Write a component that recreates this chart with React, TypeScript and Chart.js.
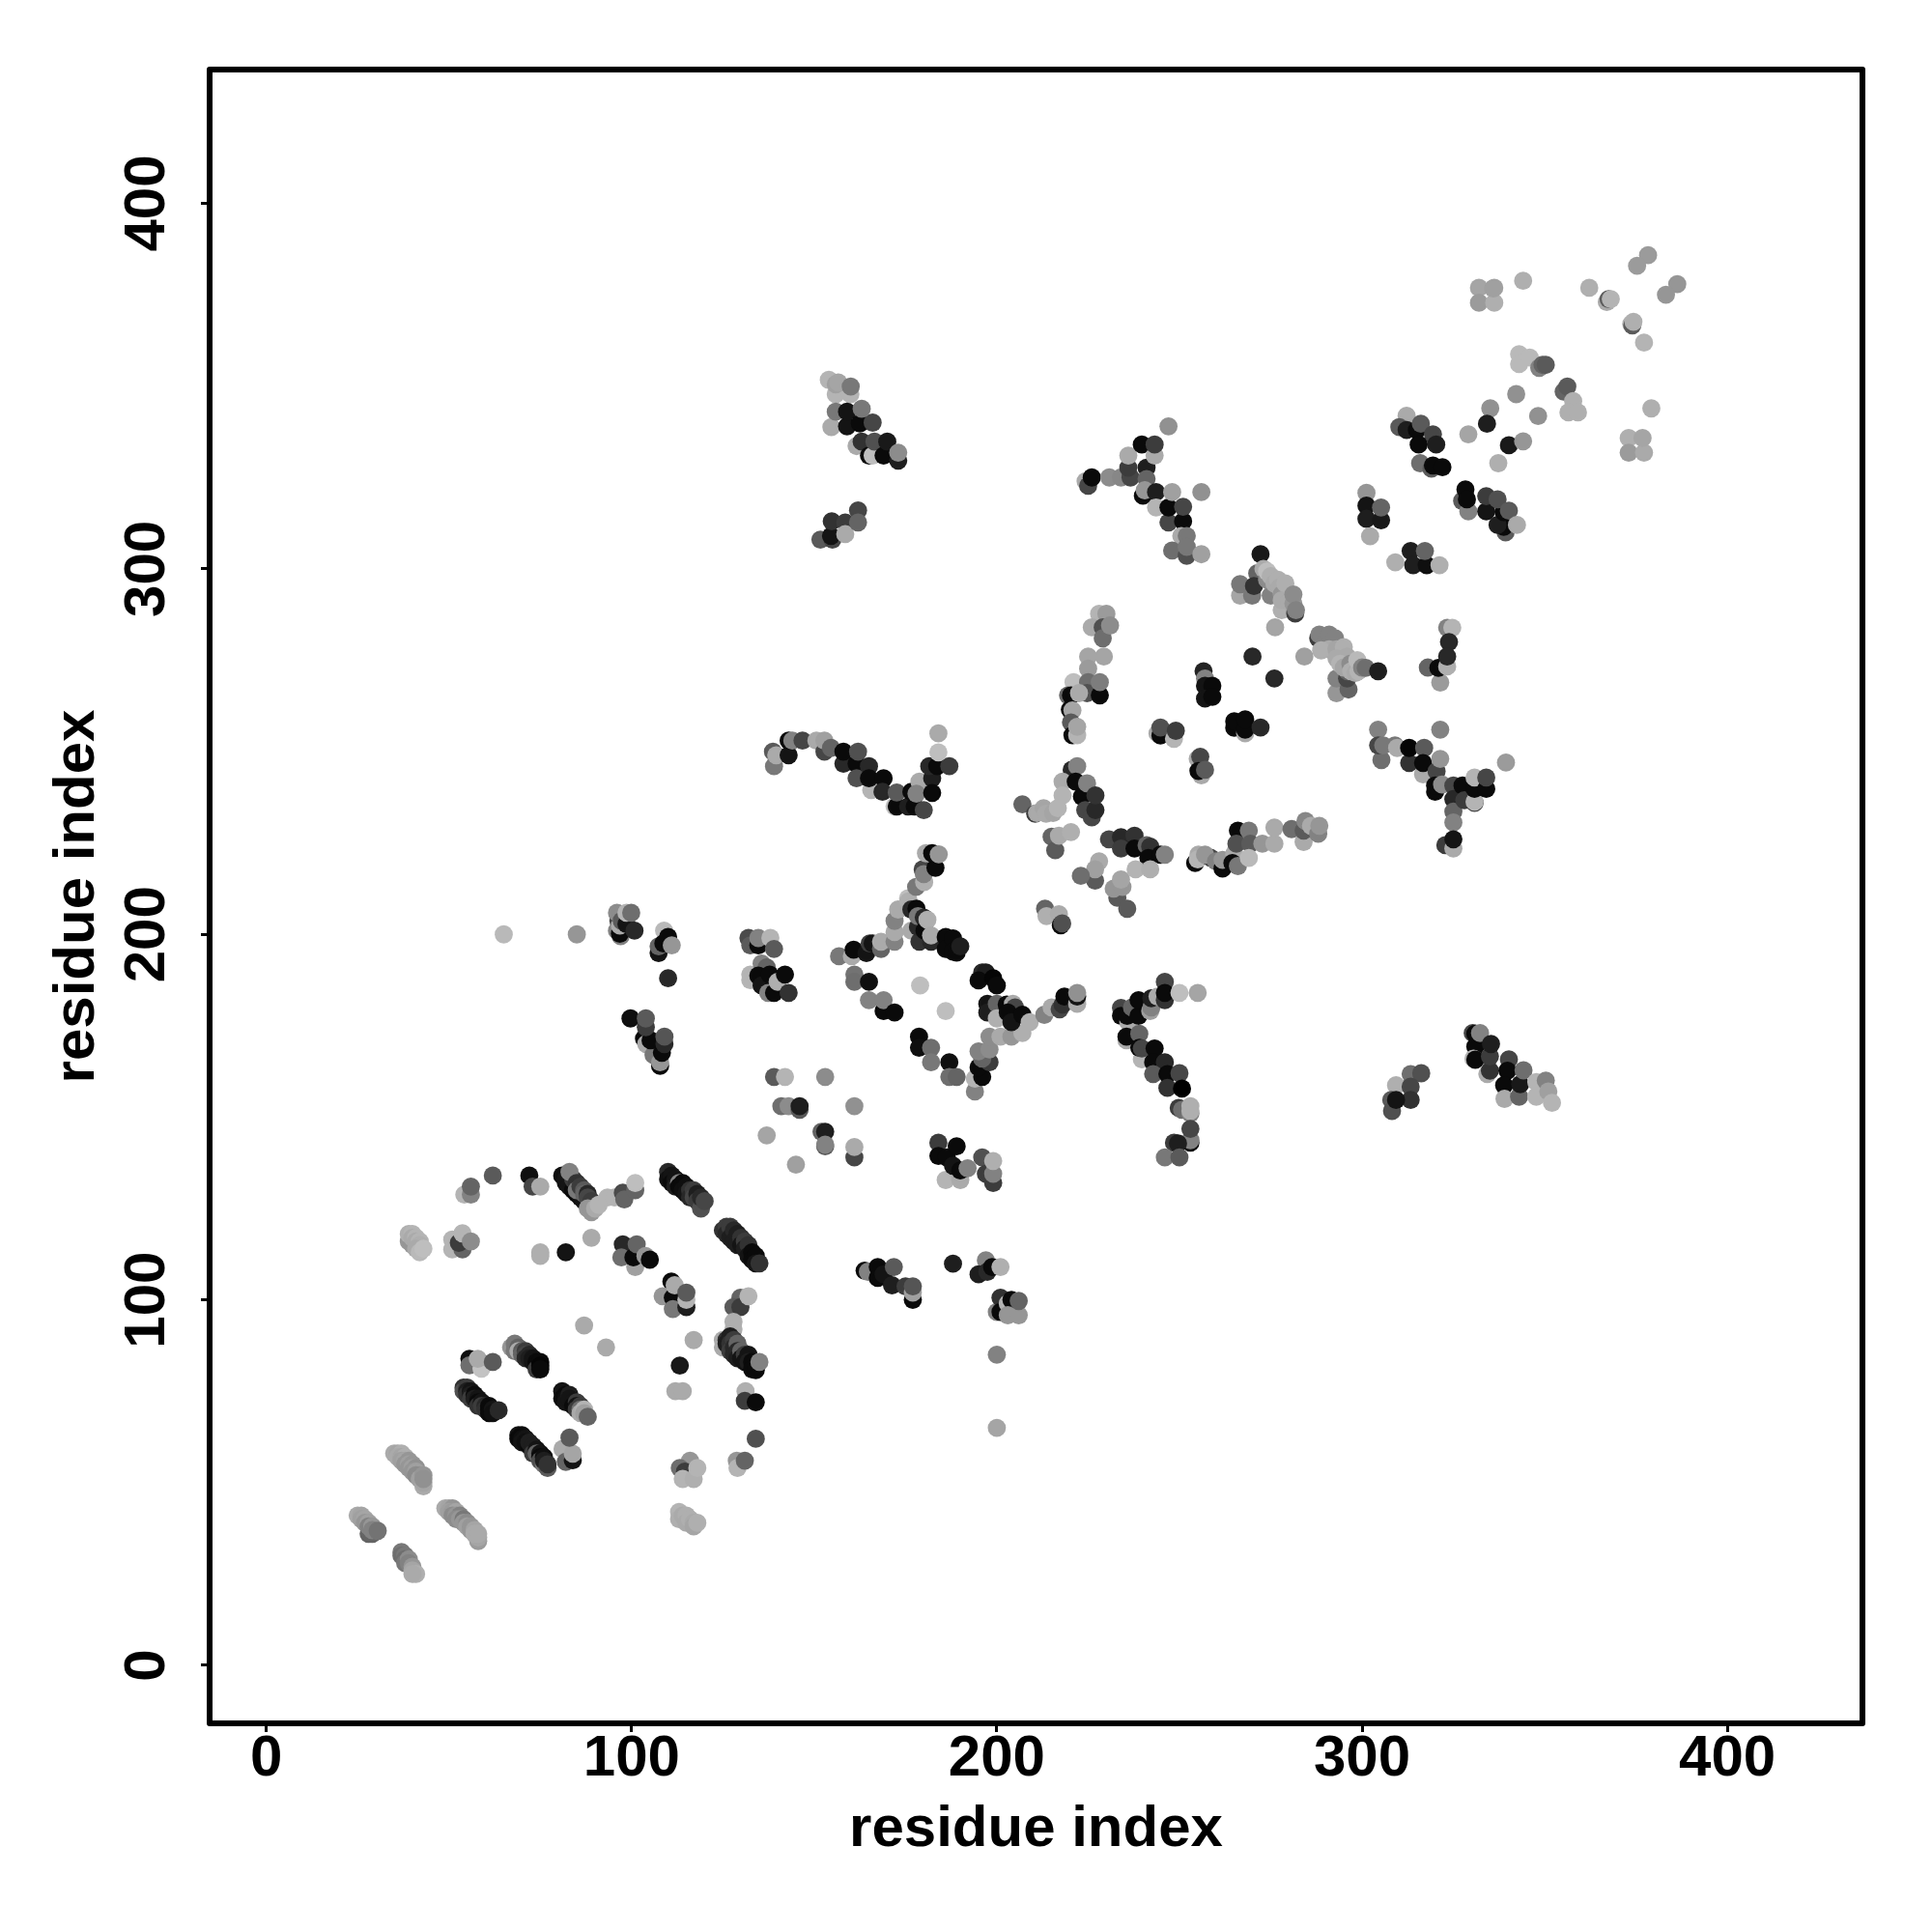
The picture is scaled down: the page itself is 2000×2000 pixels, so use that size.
import React, { useEffect, useRef } from "react";
import { Chart, registerables } from "chart.js";

Chart.register(...registerables);

type P = number[];
const tickValues = [0, 100, 200, 300, 400];
const axisTitle = "residue index";

const strandA: P[] = [[28,36,100],[29,36,100],[25,41,170],[26,41,165],[26,40,160],[27,40,165],[27,39,150],[28,39,160],[28,38,130],[29,38,150],[29,37,130],[30.5,36.8,115]];
const strandB: P[] = [[37,31,120],[37,30,110],[38,30,120],[38,29,110],[38,28,120],[39,29,140],[39,28,130],[40,27,150],[40,26,165],[41,25,175],[40,25,170]];
const strandC: P[] = [[35,58,170],[36,58,165],[37,58,175],[36,57,170],[37,57,165],[38,57,175],[37,56,160],[38,56,165],[39,56,150],[38,55,150],[39,55,160],[40,55,150],[39,54,150],[40,54,160],[41,54,145],[40,53,150],[41,53,160],[42,52,150],[41,52,140],[42,51,160],[43,49,170],[43,50,165],[43,52,150],[43,51,145]];
const strandD: P[] = [[49,43,170],[50,43,165],[51,43,150],[50,42,160],[51,42,155],[52,42,165],[51,41,140],[52,41,150],[53,41,130],[52,40,140],[53,40,150],[54,40,120],[54,39,150],[55,39,140],[55,38,160],[56,38,150],[56,37,150],[57,37,165],[58,34,155],[58,35,165],[57,36,170],[58,36,170]];
const ringLow: P[] = [[69,63,20],[70,63,10],[69,62,10],[70,62,15],[71,62,20],[70,61,20],[71,61,15],[72,60,10],[72,61,30],[73,60,30],[73,59,30],[73,58,60],[74,59,20],[74,58,100],[75,58,20],[75,57,10],[75,56,80],[76,55,120],[76,57,15],[76,56,30],[77,54,90],[77,55,50]];
const ringLowSide: P[] = [[81.1,59.2,170],[82,55.7,100],[83.9,56.1,20],[83.9,57.9,165],[83,62.3,90]];
const ringLeft: P[] = [[54,76,50],[54,75,80],[55,76,60],[55,75,30],[55,74,50],[56,75,20],[56,74,30],[56,73,60],[57,74,10],[57,73,30],[58,73,20],[58,72,10],[58,71,50],[59,72,20],[59,71,60],[60,71,40],[60,70,50],[61,71,10],[61,70,10],[61,69,10],[62,70,20],[62,69,15],[63.6,69.8,40]];
const ringLeftTop: P[] = [[55.6,83.9,15],[55.6,82.1,110],[58.9,81.2,195],[57.9,83.9,170],[62,83,90]];
const ringTop: P[] = [[67,87,150],[68,88,120],[68,86,120],[69,87,100],[69,86,170],[70,86,90],[70,85,100],[71,86,60],[71,85,70],[71,84,40],[72,85,40],[72,84,30],[73,84,20],[73,83,20],[74,83,10],[74,82,10],[74,81,60],[75,83,10],[75,82,5],[75,81,10]];
const ringRight: P[] = [[81,75,20],[81,73,10],[82,74,10],[82,73,15],[82,72,20],[83,74,30],[83,73,20],[84,72,20],[84,71,10],[85,72,60],[85,71,20],[85,70,60],[86,71,60],[86,70,110],[86,69,170],[87,70,180],[87,69,160],[88,68,100]];
const lone1: P[] = [[87,93,170],[93,87,170],[75,113,175],[75,112,175],[82,113,20],[89,117,170],[65,200,185],[85,200,150],[200,85,130],[200,65,165]];
const arc115a: P[] = [[39,116,150],[40,115,150],[39,118,175],[40,118,180],[40,117,170],[41,117,180],[41,116,170],[42,116,180],[42,115,175],[41,114,170],[42,113,185],[43,114,190]];
const arc115b: P[] = [[50.9,113.8,180],[50.9,116.5,180],[53.7,113.8,100],[52.7,115.6,60],[53.7,118.2,180],[56,116,140]];
const arc130a: P[] = [[54.2,128.8,180],[56,128.8,130],[56,131,100],[62,134,90],[72,134,15],[72.9,131,70],[75,131,170]];
const arc130b: P[] = [[81,134,15],[82,132,20],[82,133,20],[83,131,20],[84,130,10],[85,129,10],[86,128,15],[87,127,20],[84,133,60],[83,135,130],[85,132,50],[85,130,120],[86,131,60],[87,130,90],[87,129,100],[88,129,40],[88,128,70],[89,127,60],[88,125,150],[89,124,150],[90,125,170],[91,126,180],[93.4,128,180],[95.3,128,180],[97.6,129.3,75],[98,127.5,100],[101,130,100],[101,132,190]];
const arc130c: P[] = [[110,135,40],[110,133,15],[111,134,20],[111,132,10],[112,133,20],[112,131,30],[113,132,130],[113,131,10],[114,132,10],[114,130,15],[115,131,15],[115,129,20],[116,130,50],[116,128,40],[117,130,60],[117,128,70],[118,129,30],[118,127,60],[119,125,80],[119,128,40],[120,127,70]];
const arc115c: P[] = [[125,119,50],[126,120,60],[126,118,40],[127,120,60],[127,117,30],[128,119,40],[128,116,30],[129,118,30],[129,115,30],[130,117,50],[130,115,20],[131,116,60],[131,114,30],[132,115,50],[132,112,20],[133,113,10],[133,111,10],[134,112,10],[134,110,20],[135,110,50]];
const arc112: P[] = [[97.6,115.2,40],[97.2,111.6,110],[101,109,160],[100.5,111.6,10],[101.4,115.2,100],[103.8,112,150],[105,111,10]];
const arc100: P[] = [[110.9,105,10],[108.5,101,150],[111.3,100.6,10],[111.3,97.5,120],[115,98,30],[115,100,180],[111.8,104,170],[115,102,90]];
const arc90: P[] = [[117,89,170],[113.2,82,25],[112,75,170],[114,75,170],[131.2,75,175],[131,72.4,60],[134,72,10],[134,62,80],[128.8,56,150],[129,54,180],[131,56,100],[116,56,150],[113.2,54,110],[114.6,53,60],[114,51,180],[117,51,175],[118,54,180],[113,42,180],[113,40,175],[114,41,170],[115,41,175],[115,39,170],[116,40,175],[117,39,170],[117,38,165],[118,39,175]];
const arc98: P[] = [[129.8,100.6,100],[127.9,98,90],[129.8,98,60],[127.9,94,175],[127.9,92,175],[132,101,180]];
const arc85: P[] = [[125,89,170],[125,87,170],[126,89,50],[126,88,30],[127,90,30],[127,88,50],[127,86,60],[128,89,60],[128,87,40],[128,85,40],[129,88,100],[129,86,40],[129,84,30],[130,86,100],[130,84,20],[131,85,60],[131,83,20],[132,85,20],[132,83,30],[133,83,10],[133,81,10],[134,80.8,10],[135,83,130]];
const upper200a: P[] = [[96,201,130],[97,199.5,130],[96.8,200.2,10],[96.4,203.7,70],[96,205.9,140],[96.8,202.4,170],[97.3,203.7,90],[98.6,202.8,20],[100.8,201,40],[98.6,205.9,180],[99.9,205.9,110]];
const upper200b: P[] = [[108.9,201,185],[107.4,194.9,20],[107.4,196.7,100],[108.7,197.5,10],[110,199.3,10],[111,197,150],[110,188,40]];
const upper170: P[] = [[99.7,177,15],[103.4,171.5,10],[104,170,170],[106,167,120],[107.8,164,10],[107.8,165,150],[108.3,167.6,10],[105.2,171,10],[103.9,174.6,60],[103.9,177,90],[109,170,40],[109,172,85]];
const upper198: P[] = [[132,199,75],[132.5,197,90],[134.7,197,10],[134.7,199,130],[138,199,180],[139,196,90]];
const upper188: P[] = [[132.5,189,180],[132.5,187.5,180],[135.6,192,130],[137,191,100],[134.7,188.7,10],[135.6,186,20],[137.4,184,130],[139,184,10],[137.8,189,10],[140,187,175],[142,189,10],[143,184,50]];
const sparse150: P[] = [[139,161,90],[142,161,180],[153,161,140],[141,153,110],[143,153,140],[146,152,90],[146,153,30],[161,153,145],[137,145,165],[152,146,100],[153,146,30],[153,142,90],[153,142.5,130],[161,139,70],[161,141.8,170],[145,137,160]];
const diamondTopLeft: P[] = [[156.8,194,120],[160.3,194,170],[160.8,195.8,10],[164.3,194.9,20],[165.2,197.5,60],[166,197.5,20],[168.3,196,100],[168.3,198,170],[172,198,130],[172,200.6,170],[172,203.7,130],[173,206.8,170],[175.7,209.9,190],[175.8,209,175],[177.9,213,120],[180.1,214.3,175],[179.7,217.8,70],[180,216.5,130],[183.2,218.2,10],[180.6,222.2,170],[182.3,222.2,10],[184.1,221.9,150]];
const diamondTop: P[] = [[176.6,206.8,40],[178,207,10],[176.6,201,170],[178.8,198,50],[182,198,40],[178.4,202,40],[178.4,205,120],[180,204.6,40],[180.2,201,10],[181,204,175],[182,199.7,170],[186,199.3,10],[186,196,10],[188,198.9,10],[188,195.3,10],[189,195,10],[190,196.7,30]];
const diamondLeft: P[] = [[161,189,115],[161,187,110],[165,187,15],[165,182,130],[169,179,10],[169,182,130],[172,178.6,10],[179,186,190],[186,179,190]];
const diamondLow: P[] = [[178.7,172,10],[178.7,169,15],[182,169,110],[182,165,120],[187,165,15],[187,161,110],[189,161,100],[194,157,130],[194,160.5,180],[196,161,10],[195,163.6,10],[198,165,60],[196,166,100],[195,168,130],[198,168.5,140],[198,172,140],[201,172,170],[204,172,150],[207,173,175]];
const diamondRight: P[] = [[196,189.6,40],[197,189.6,30],[195,187.4,10],[199,188,5],[200,186,10],[197.4,181,20],[197.4,178.6,30],[200,181,100],[200,177,175],[202.7,180.8,10],[204.4,181,170],[205,180,70],[203,178.6,10],[204,176,20],[207,178,10],[209,176,175]];
const diamondTail: P[] = [[213,178,130],[215,180,170],[217.2,179.5,70],[218,180.8,50],[218.5,183,10],[222,181,170],[222,183,20],[222,184,145]];
const mid140: P[] = [[184,143,60],[184,139.4,10],[186,132.8,180],[190,132.8,170],[186.3,139,10],[188,136.7,20],[189,142,10],[190,135.4,10],[192,136,130],[196,139,80],[197,134.5,60],[199,132,60],[199,134.5,130],[199,138,175]];
const right180: P[] = [[234,179.9,70],[234,177.7,10],[236,176,170],[235.7,177.7,10],[237,180,100],[238.8,177.7,10],[238.8,182,10],[242,179,160],[242.3,180,130],[242.3,182.5,30],[244,183,170],[246,187,70],[246,182,50],[246,184,10],[250,184,190],[255,184,165]];
const right165: P[] = [[235.5,171,170],[235.5,172,10],[239,172.8,100],[239.7,165.8,180],[239,169,10],[239.7,168.8,70],[243.2,168.8,10],[242.8,165,10],[246,165,40],[242.8,161.8,90],[246.7,161.8,10],[250,162,70],[246.7,158,50],[250.7,157.8,0],[249.8,152.5,60],[250.7,152,110],[253,151,130],[253,151.7,175],[253,153,175]];
const right143: P[] = [[253,143,10],[253,143.7,130],[253,146.8,70],[248.5,143,60],[249.6,142.8,30],[246,139,120],[250,139,90]];
const far155a: P[] = [[313.3,161.8,110],[316.2,162,80],[309.3,158.7,175],[313.3,158.3,70],[313.3,154.7,50],[308,154.7,90],[308.2,151.7,80],[309.3,154.7,20]];
const far155b: P[] = [[330.3,173,70],[331,172.8,10],[331,169.3,10],[330.5,166,180],[331,165.7,10],[332.3,173,130],[334.3,161.8,170],[335,162.7,50],[335,166.6,60],[335.3,170,30],[340.2,165.8,70],[339.8,162.7,10],[338.9,158.7,10],[339,155,170],[343,155.6,100],[343.3,159,25],[344.2,162.8,110],[347.7,159.6,180],[347.7,155.6,180],[350.3,160,130],[351,157,160],[352,153.9,180]];
const low105a: P[] = [[163.8,108,10],[164.7,107.7,130],[167.4,106,10],[167.4,109,10],[169,107,20],[171.3,104,30],[171.8,109,90],[175,103.7,60],[177,100,10],[177,102,160],[177,103.7,85]];
const low105b: P[] = [[188,109.9,30],[197,110.8,130],[195,107,30],[197.4,107.7,40],[198.7,109,10],[201,109,175]];
const low98: P[] = [[200,96.7,130],[201,100.6,50],[201,96.7,10],[203,99,180],[204,100,10],[203,95.8,150],[206,95.8,150],[206,99.7,100]];
const top350: P[] = [[154,351.7,180],[155.9,347.8,180],[159.9,347.8,180],[155.9,350.5,160],[156.6,351,165],[160,349.9,120],[154.7,338.8,170],[155.9,343,120],[159,339,20],[159,343,20],[162.5,339.8,10],[166,340,70],[163,343.8,120]];
const top333: P[] = [[161.6,333.6,170],[163,334.8,50],[165,331,10],[166,331,190],[166.5,334.8,80],[169,331,10],[170,334.8,25],[173,329.6,30],[173,331.8,140]];
const top312: P[] = [[151.7,308,90],[155,308,70],[154.6,309,20],[154.8,313,50],[158.5,312.7,60],[158.5,309.5,170],[162,316,70],[162,312.7,100]];
const top325: P[] = [[224.3,324,170],[225,322.7,70],[226,325,10],[230.8,325,140],[234,325,135],[236.6,325,70],[236,327.7,60],[236,331,170],[239.7,334,10],[241,327.7,30],[241,324.6,100],[243.2,331,170],[243.2,334,60],[247,339,145]];
const top315: P[] = [[240,320,10],[240.5,321.5,150],[243.6,321,30],[243.6,316.8,180],[247,312.7,70],[247,316.8,10],[251,313,10],[251,317,70],[248,321,160],[256,321,145],[250.5,309,170],[252,309,120],[248,305,110],[252,303.6,80],[252,306,120],[256,304,160]];
const band250: P[] = [[139,246,120],[138.7,250,90],[139.6,249,170],[143,249,20],[143,253,10],[144,253,130],[146.8,253,70],[150.6,253,170],[152.8,250,70],[152.8,253,160],[154.6,251,100],[158,246.7,40],[158,250,10],[161.6,246.7,10],[162,250,80],[161.6,242.7,80],[165,246,40],[165.6,239.5,180],[165,242.7,10],[169,242.7,10],[168.7,239,40],[172,235,190],[172.6,235,10],[172.6,238.8,90]];
const band240: P[] = [[175.7,235,30],[177.5,235,10],[176.6,239,10],[178.8,241.8,170],[178,238.5,130],[182.3,242.7,30],[182.3,238.7,10],[180,234,70],[181.5,246,40],[183.7,246,10],[187,246,60],[184,249.8,190],[184,255,170]];
const col285: P[] = [[228,287.7,180],[226,284,170],[230,287.7,155],[229,284,80],[229,281,110],[231,284.5,140],[229.3,276,165],[225,276,165],[225,272.7,155],[221,269,190],[225,269,110],[224.7,266,80],[228.2,265.4,10],[228.2,269,125]];
const col260: P[] = [[219.5,265.4,100],[220.3,265.4,10],[222.5,266,170],[220,261.5,10],[220.7,261.3,165],[220.3,258,90],[220.7,254.5,10],[222,254.5,180],[222,256.8,165]];
const col240: P[] = [[220.5,245,40],[222,246,130],[218,241.8,170],[218,238,180],[221.6,241.8,10],[223.3,237.7,10],[224.7,241.3,130],[224.2,234,70],[226,232,70],[227,234,40],[227,238,50]];
const pale234: P[] = [[207,235.6,100],[210.5,233,60],[211,233.2,170],[212.8,234.5,165],[213.5,233,170],[215.4,233.2,165],[216.7,234.5,180],[215,226.7,100],[216,223,90],[217,227,170],[220.3,228,175]];
const band225: P[] = [[230.7,226,70],[234,226.6,40],[234,223.5,60],[237.7,227,50],[237.7,223.5,10],[241,224.4,100],[242,224,50],[241.5,220.9,10],[244.8,221.8,10],[246,221.8,130]];
const pale215: P[] = [[228,220,170],[226.9,214.7,90],[226.9,217.8,160],[223,216,110],[238,217.8,180],[242,217.8,175],[233,210,90],[232,212.5,150],[234.4,213,150],[234,215,165],[235.7,207,90],[213.2,207,100],[213.6,205,175],[217,205.5,170],[217.5,202.5,10],[217.9,203,80]];
const band220: P[] = [[254.3,219.5,10],[255.2,221.8,170],[255,220.5,180],[258.5,221,70],[257,221.8,150],[260,220,130],[261.8,218,10],[261.8,220.4,150],[265,222,170],[264.5,219.5,10],[266,218.7,120],[266,228.4,10],[265.6,224.8,80],[269,228.4,120],[269.4,224.8,90],[269,220.9,185],[272.7,224.8,150],[276,224.8,170],[276,229.2,170],[280.7,228.8,110],[284,225.3,170],[284,228.4,90],[284.5,231,135],[286,229.7,170],[288,227.5,130],[288.3,229.7,150]];
const cross295: P[] = [[272.2,304,25],[271.3,298.8,100],[266.6,292.7,165],[266.6,295.8,120],[269.9,292.7,120],[270.4,295.3,50],[273,300,170],[274,297,140],[274,299.3,190],[275,298,175],[275,292.7,130],[276,296,170],[277,297,175],[277.4,294.9,170],[278,293,150],[279,296,175],[278,288.7,175],[278,291.4,170],[280,291,170],[281.7,287.8,60],[281.2,290.5,150],[281.2,293,140],[281.9,288.7,130],[276.2,284,165]];
const cross275: P[] = [[288,281,60],[288.3,282,130],[290,280,130],[291,282,130],[292.6,281,130],[291,278,170],[288.8,277.7,175],[293,278,165],[295,278.6,175],[284.2,276,160],[293,275.5,170],[295.9,276,170],[293,266,150],[293,270,130],[296.3,267,100],[295.9,270,70],[296,272,100],[294,274,180],[295,273,165],[296.8,274,140],[297,272,175],[298.2,271.5,170],[299,272,180],[298.7,275,185],[300,273,130],[301,272.9,110],[304.4,272,30]];
const col275: P[] = [[323.3,283.9,130],[324.7,283.9,180],[323.8,280,40],[321.4,268.9,155],[318,273,100],[320.9,272.9,10],[323.3,273.3,175],[323.3,276,40]];
const blocks265: P[] = [[256.6,272,35],[257,270,130],[257,268,20],[259,268,10],[257,264.5,20],[259,265,10],[270,276,40],[276,270,40],[244,255,170],[244.8,254.4,10],[244.8,256.6,80],[248.5,253.5,180],[249,255.7,60],[255,248,170],[255.7,248.6,70],[256,243.5,170],[255.2,244.7,10],[257,245,90],[265,256.5,10],[265,258.3,10],[268,255,170],[268,256,10],[268,258.8,10],[272.2,256.6,40]];
const v250: P[] = [[304.4,256,130],[321.4,256,130],[339.4,247,155],[305.3,247.7,110],[304.4,251.7,70],[305.8,251.7,120],[309,251.7,120],[309.6,251,170],[312.9,246.9,50],[312.9,251,5],[317,251,90],[316.7,243.8,170],[316.7,246.9,10],[320,239,10],[320.4,244.6,70],[320,240.7,10],[321.4,248,150],[321.9,241,140]];
const v232: P[] = [[325,240.7,70],[325,237,40],[325,233.6,100],[325,230.6,130],[322.8,224.4,60],[325,223.5,170],[325,226,20],[327.5,240.7,10],[328,236.7,60],[330.8,236,60],[330.8,236.3,180],[330.8,239.8,10],[330.8,242.9,180],[334,239.8,10],[334,242.9,70]];
const far375: P[] = [[378.3,385.8,155],[375.3,382.9,155],[362.2,376.9,175],[367,373,170],[367.5,373.8,90],[368.1,373.8,180],[386.3,377.9,150],[383.2,375,150],[373.7,367,175],[374,366.6,90],[374.3,367.6,175],[377.2,361.9,180],[332,376.9,165],[332,372.8,155],[336.2,372.8,175],[335.9,376.7,160],[336.2,376.9,160],[344.1,378.8,175]];
const far355: P[] = [[343,358.7,185],[343,356,185],[345.9,357.8,185],[348.5,355,130],[349.4,355.8,100],[350.3,355.8,90],[342.2,347.8,145],[355.2,348.5,100],[356.2,349.9,90],[357.8,345.9,175],[356.5,342.8,175],[359.1,342.8,175],[348.2,341.8,145],[335.1,343.9,145],[334.2,339.7,30],[329.1,336.8,165],[340.2,333.8,25],[344.1,334.9,150],[337.3,328.9,175]];
const far335: P[] = [[379.2,343.9,175],[373,335.8,175],[373,331.8,155],[377.2,331.8,170],[376.8,335.8,165]];
const upper338: P[] = [[312.2,341.9,170],[310.2,338.8,90],[312.2,338,30],[315,338,10],[316.1,339.7,90],[319.4,336.8,70],[315.5,334,10],[320.3,334,30],[315.9,328.9,110],[319,327.4,90],[319.4,328.3,10],[322,327.8,10]];
const upper318: P[] = [[327.4,318.6,90],[328.3,321.7,10],[329.1,315.7,130],[328.7,319,10],[334,315.7,20],[334,319.9,60],[339.3,310,90],[338.8,311.5,10],[337.1,312,30],[338.8,315.5,10],[337.1,319,80],[340.2,315.9,90],[342.4,312,170]];
const upper315: P[] = [[301.2,320.8,150],[301.2,317.3,20],[301.2,313.7,30],[305.2,313.3,25],[305.2,316.8,100],[302.2,308.9,170],[309.1,301.8,175],[313.3,304.9,30],[314,301,30],[317.7,301,15],[317.2,304.9,100],[321.2,301,175]];

const contacts: P[][] = [strandA, strandB, strandC, strandD, ringLow, ringLowSide, ringLeft, ringLeftTop, ringTop, ringRight, lone1, arc115a, arc115b, arc130a, arc130b, arc130c, arc115c, arc112, arc100, arc90, arc98, arc85, upper200a, upper200b, upper170, upper198, upper188, sparse150, diamondTopLeft, diamondTop, diamondLeft, diamondLow, diamondRight, diamondTail, mid140, right180, right165, right143, far155a, far155b, low105a, low105b, low98, top350, top333, top312, top325, top315, band250, band240, col285, col260, col240, pale234, band225, pale215, band220, cross295, cross275, col275, blocks265, v250, v232, far375, far355, far335, upper338, upper318, upper315];

const FONT = '"Liberation Sans", Arial, sans-serif';

const framePlugin = {
  id: "frameAndLabels",
  afterDatasetsDraw(chart: any) {
    const { ctx, chartArea: a, scales } = chart;
    ctx.save();
    ctx.strokeStyle = "#000";
    ctx.lineWidth = 6;
    ctx.lineJoin = "round";
    ctx.strokeRect(a.left, a.top, a.right - a.left, a.bottom - a.top);
    ctx.fillStyle = "#000";
    ctx.font = `bold 60px ${FONT}`;
    ctx.textAlign = "center";
    ctx.textBaseline = "alphabetic";
    tickValues.forEach((v) => {
      ctx.save();
      ctx.translate(170, scales.y.getPixelForValue(v));
      ctx.rotate(-Math.PI / 2);
      ctx.fillText(String(v), 0, 0);
      ctx.restore();
    });
    ctx.restore();
  },
};

export default function App() {
  const ref = useRef<HTMLCanvasElement>(null);
  useEffect(() => {
    const points = contacts.flat();
    const setTicks = (s: any) => {
      s.ticks = tickValues.map((value) => ({ value }));
    };
    const chart = new Chart(ref.current!, {
      type: "scatter",
      data: {
        datasets: [
          {
            data: points.map((p) => ({ x: p[0], y: p[1] })),
            pointRadius: 9.4,
            pointBorderWidth: 0,
            pointBackgroundColor: points.map((p) => `rgb(${p[2]},${p[2]},${p[2]})`),
          },
        ],
      },
      options: {
        animation: false,
        responsive: false,
        plugins: { legend: { display: false }, tooltip: { enabled: false } },
        layout: { padding: { top: 72, right: 72, left: 0, bottom: 0 } },
        scales: {
          x: {
            type: "linear",
            min: -15.53,
            max: 437.0,
            afterBuildTicks: setTicks,
            afterFit: (s: any) => {
              s.height = 216;
            },
            border: { display: false },
            grid: { drawOnChartArea: false, drawTicks: true, tickLength: 9, tickWidth: 3, tickColor: "#000" },
            ticks: {
              autoSkip: false,
              maxRotation: 0,
              minRotation: 0,
              padding: -8,
              color: "#000",
              font: { family: FONT, weight: "bold", size: 60 },
            },
            title: {
              display: true,
              text: axisTitle,
              color: "#000",
              font: { family: FONT, weight: "bold", size: 60 },
              padding: { top: 0, bottom: 70 },
            },
          },
          y: {
            type: "linear",
            min: -15.86,
            max: 436.6,
            afterBuildTicks: setTicks,
            afterFit: (s: any) => {
              s.width = 217;
            },
            border: { display: false },
            grid: { drawOnChartArea: false, drawTicks: true, tickLength: 9, tickWidth: 3, tickColor: "#000" },
            ticks: { display: false },
            title: {
              display: true,
              text: axisTitle,
              color: "#000",
              font: { family: FONT, weight: "bold", size: 60 },
              padding: { top: 44, bottom: 0 },
            },
          },
        },
      },
      plugins: [framePlugin],
    } as any);
    return () => chart.destroy();
  }, []);
  return (
    <canvas
      ref={ref}
      width={2000}
      height={2000}
      style={{ position: "absolute", left: 0, top: 0, width: 2000, height: 2000, display: "block" }}
    />
  );
}
